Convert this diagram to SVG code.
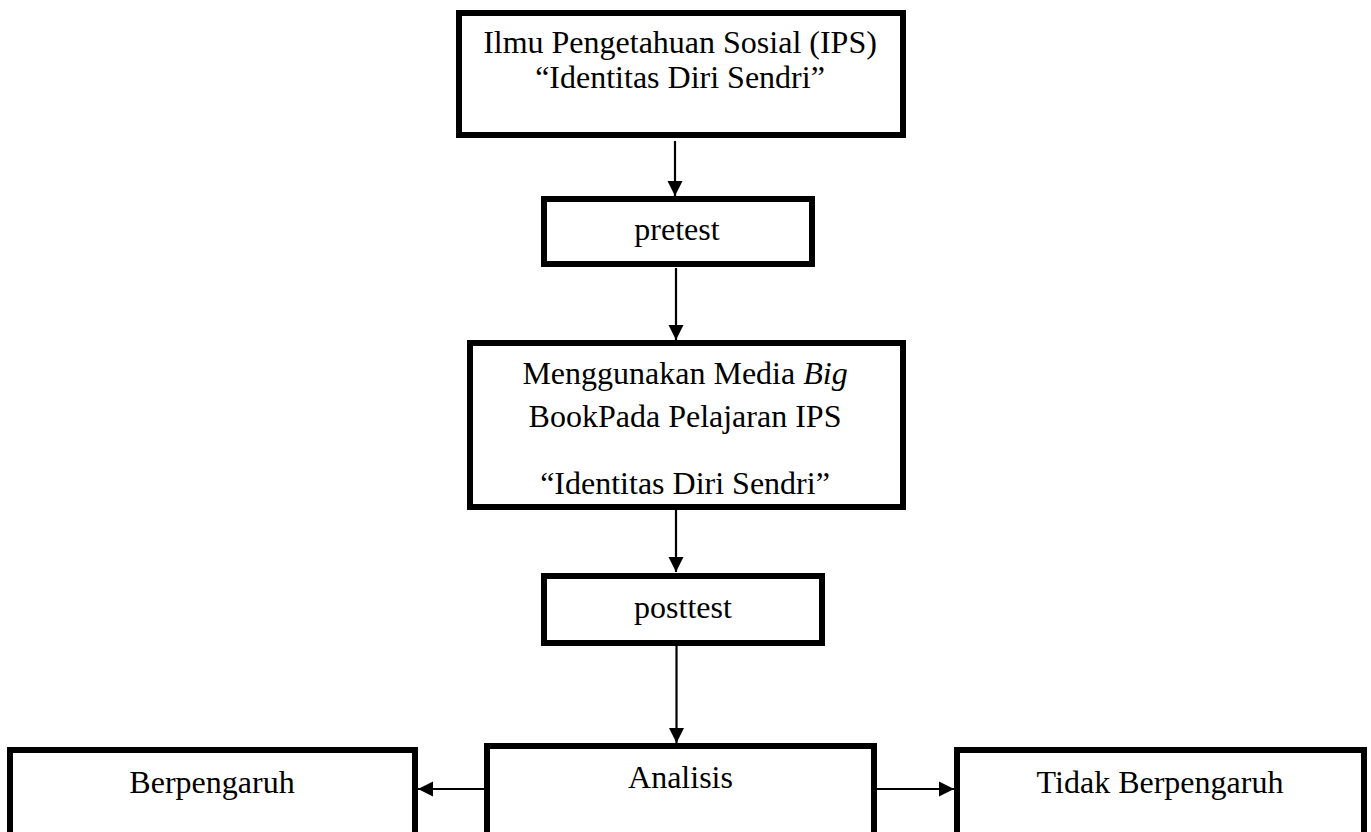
<svg xmlns="http://www.w3.org/2000/svg" width="1371" height="832" viewBox="0 0 1371 832">
<style>
.box{fill:#fff;stroke:#000;stroke-width:6}
.t{font-family:"Liberation Serif","Times New Roman",serif;font-size:32px;fill:#000;text-anchor:middle}
.c{stroke:#000;stroke-width:2.2;fill:none;marker-end:url(#ah)}
</style>
<defs>
<marker id="ah" markerUnits="userSpaceOnUse" markerWidth="16" markerHeight="16" viewBox="0 0 16 16" refX="15" refY="8" orient="auto">
<path d="M0,0.5 L15,8 L0,15.5 z" fill="#000"/>
</marker>
</defs>
<rect width="1371" height="832" fill="#fff"/>
<g id="connectors">
<line class="c" x1="675" y1="141" x2="675" y2="196"/>
<line class="c" x1="676" y1="268" x2="676" y2="340"/>
<line class="c" x1="676" y1="510" x2="676" y2="572"/>
<line class="c" x1="676.5" y1="646" x2="676.5" y2="743"/>
<line class="c" x1="484" y1="789" x2="418" y2="789"/>
<line class="c" x1="877" y1="789" x2="954" y2="789"/>
</g>
<g id="n-ips">
<rect class="box" x="459" y="13" width="444" height="122"/>
<text class="t" x="680" y="53">Ilmu Pengetahuan Sosial (IPS)</text>
<text class="t" x="680" y="88">“Identitas Diri Sendri”</text>
</g>
<g id="n-pretest">
<rect class="box" x="544" y="199" width="268" height="65"/>
<text class="t" x="677" y="240">pretest</text>
</g>
<g id="n-media">
<rect class="box" x="470" y="343" width="433" height="164"/>
<text class="t" x="685" y="384">Menggunakan Media <tspan font-style="italic">Big</tspan></text>
<text class="t" x="685" y="427">BookPada Pelajaran IPS</text>
<text class="t" x="685" y="494">“Identitas Diri Sendri”</text>
</g>
<g id="n-posttest">
<rect class="box" x="544" y="576" width="278" height="67"/>
<text class="t" x="683" y="618">posttest</text>
</g>
<g id="n-analisis">
<rect class="box" x="487" y="746" width="387" height="100"/>
<text class="t" x="680.5" y="788">Analisis</text>
</g>
<g id="n-berpengaruh">
<rect class="box" x="10" y="750" width="405" height="100"/>
<text class="t" x="212" y="793">Berpengaruh</text>
</g>
<g id="n-tidak">
<rect class="box" x="957" y="750" width="407" height="100"/>
<text class="t" x="1160" y="793">Tidak Berpengaruh</text>
</g>
</svg>
